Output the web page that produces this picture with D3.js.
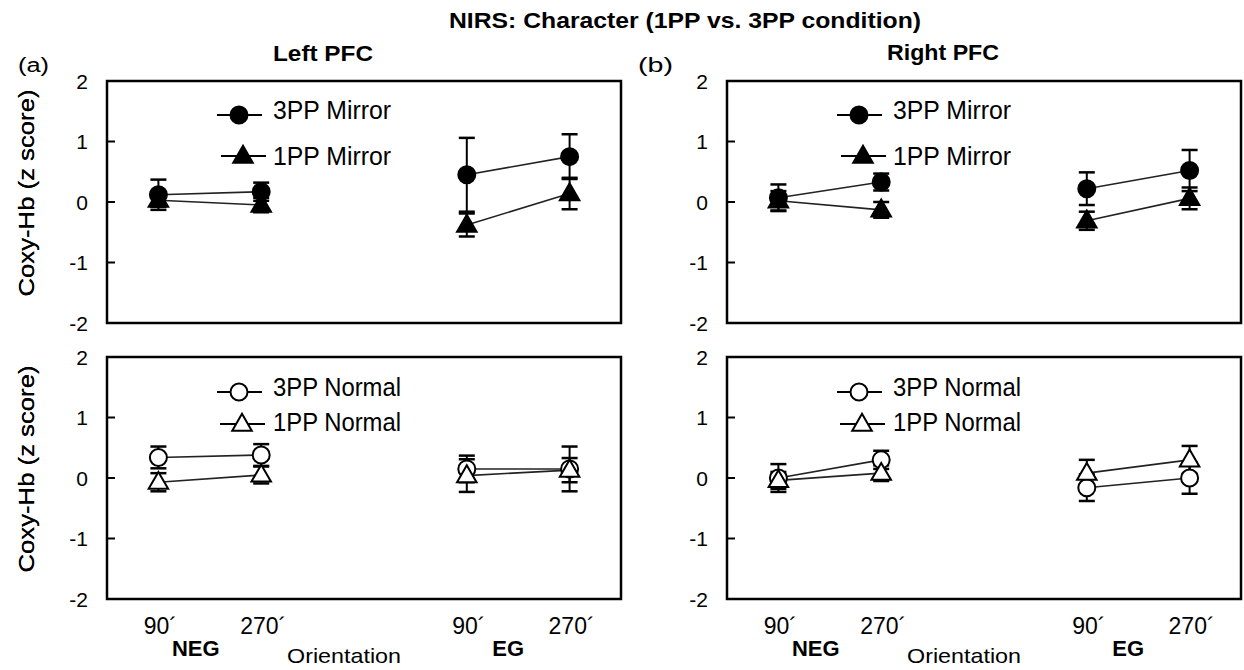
<!DOCTYPE html>
<html>
<head>
<meta charset="utf-8">
<script src="https://cdn.jsdelivr.net/npm/d3@7"></script>
<style>
  html, body { margin: 0; padding: 0; background: #fff; }
  svg { display: block; }
  text { font-family: "Liberation Sans", Arial, sans-serif; fill: #000; }
</style>
</head>
<body>
<svg id="chart" width="1244" height="670"></svg>
<script>
// ---------------- data ----------------
const xSlots = ["NEG-90", "NEG-270", "gap", "EG-90", "EG-270"];
const pointSlots = ["NEG-90", "NEG-270", "EG-90", "EG-270"];
const orientationLabels = ["90´", "270´", "90´", "270´"];
const groupLabels = ["NEG", "EG"];
const yTicks = [2, 1, 0, -1, -2];
const yInnerTicks = [1, 0, -1];

const regions = ["Left PFC", "Right PFC"];
const panelTags = ["(a)", "(b)"];

// Left PFC
const leftMirror3PP = [0.12, 0.17, 0.45, 0.75];
const leftMirror3PPErr = [0.25, 0.15, 0.61, 0.37];
const leftMirror1PP = [0.03, -0.05, -0.38, 0.14];
const leftMirror1PPErr = [0.11, 0.12, 0.19, 0.26];
const leftNormal3PP = [0.34, 0.38, 0.15, 0.15];
const leftNormal3PPErr = [0.18, 0.18, 0.22, 0.37];
const leftNormal1PP = [-0.07, 0.05, 0.04, 0.13];
const leftNormal1PPErr = [0.15, 0.14, 0.27, 0.20];

// Right PFC
const rightMirror3PP = [0.07, 0.33, 0.22, 0.52];
const rightMirror3PPErr = [0.22, 0.14, 0.27, 0.34];
const rightMirror1PP = [0.02, -0.13, -0.31, 0.06];
const rightMirror1PPErr = [0.16, 0.13, 0.15, 0.18];
const rightNormal3PP = [0.00, 0.30, -0.16, 0.00];
const rightNormal3PPErr = [0.23, 0.15, 0.22, 0.26];
const rightNormal1PP = [-0.04, 0.08, 0.08, 0.30];
const rightNormal1PPErr = [0.14, 0.13, 0.22, 0.23];

const seriesNames = ["3PP  Mirror", "1PP  Mirror", "3PP  Normal", "1PP  Normal"];

// ---------------- layout ----------------
const svg = d3.select("#chart");
const colLeft = [107, 727];
const rowTop = [81, 357];
const pw = 514, ph = 242;

function txt(g, s, x, y, o) {
  o = o || {};
  const t = g.append("text").attr("x", x).attr("y", y).text(s)
    .style("font-size", (o.size || 20) + "px")
    .style("font-weight", o.bold ? "bold" : "normal")
    .attr("text-anchor", o.anchor || "start");
  if (o.len) t.attr("textLength", o.len).attr("lengthAdjust", "spacingAndGlyphs");
  return t;
}

// Title
txt(svg, "NIRS:  Character (1PP vs. 3PP condition)", 685, 28, {size: 22, bold: true, anchor: "middle", len: 472});

const triSym = d3.symbol().type(d3.symbolTriangle).size(165);

function drawMarker(g, kind, x, y) {
  if (kind.shape === "circle") {
    g.append("circle").attr("cx", x).attr("cy", y).attr("r", 8.5)
      .attr("fill", kind.filled ? "#000" : "#fff").attr("stroke", "#000").attr("stroke-width", 2);
  } else {
    g.append("path").attr("d", triSym).attr("transform", `translate(${x},${y + 1})`)
      .attr("fill", kind.filled ? "#000" : "#fff").attr("stroke", "#000").attr("stroke-width", 2);
  }
}

const panelData = [
  [ // left
    [{v: leftMirror3PP, e: leftMirror3PPErr, name: seriesNames[0], shape: "circle", filled: true},
     {v: leftMirror1PP, e: leftMirror1PPErr, name: seriesNames[1], shape: "tri", filled: true}],
    [{v: leftNormal3PP, e: leftNormal3PPErr, name: seriesNames[2], shape: "circle", filled: false},
     {v: leftNormal1PP, e: leftNormal1PPErr, name: seriesNames[3], shape: "tri", filled: false}]
  ],
  [ // right
    [{v: rightMirror3PP, e: rightMirror3PPErr, name: seriesNames[0], shape: "circle", filled: true},
     {v: rightMirror1PP, e: rightMirror1PPErr, name: seriesNames[1], shape: "tri", filled: true}],
    [{v: rightNormal3PP, e: rightNormal3PPErr, name: seriesNames[2], shape: "circle", filled: false},
     {v: rightNormal1PP, e: rightNormal1PPErr, name: seriesNames[3], shape: "tri", filled: false}]
  ]
];

const legendRows = [
  [{line: 34, text: 29, dx: 0, len: 118}, {line: 75, text: 75, dx: 4, len: 118}],
  [{line: 35, text: 30, dx: 0, len: 128}, {line: 67, text: 65, dx: 3, len: 128}]
];

colLeft.forEach((cx, ci) => {
  // region headings
  txt(svg, regions[ci], cx + 216, ci === 0 ? 61 : 60, {size: 22, bold: true, anchor: "middle", len: ci === 0 ? 100 : 112});
  txt(svg, panelTags[ci], ci === 0 ? 18 : 638, 72, {size: 20, len: ci === 0 ? 31 : 35});

  rowTop.forEach((ry, ri) => {
    const g = svg.append("g").attr("transform", `translate(${cx},${ry})`);
    const x = d3.scalePoint().domain(xSlots).range([0, pw]).padding(0.5);
    const y = d3.scaleLinear().domain([-2, 2]).range([ph, 0]);

    // frame
    g.append("rect").attr("x", 0).attr("y", 0).attr("width", pw).attr("height", ph)
      .attr("fill", "none").attr("stroke", "#000").attr("stroke-width", 2.5);

    // y ticks (inward) and labels
    yInnerTicks.forEach(t => {
      g.append("line").attr("x1", 0).attr("x2", 8).attr("y1", y(t)).attr("y2", y(t))
        .attr("stroke", "#000").attr("stroke-width", 2);
    });
    yTicks.forEach(t => {
      txt(g, t < 0 ? "-" + Math.abs(t) : String(t), -19, y(t) + 7.5, {size: 21, anchor: "end"});
    });

    // y label
    const yl = g.append("g").attr("transform", `translate(${26 - cx},${ph / 2 - 9}) rotate(-90)`);
    txt(yl, "Coxy-Hb  (z score)", 0, 8, {size: 22, anchor: "middle", len: 207});

    const series = panelData[ci][ri];
    // error bars
    series.forEach(s => {
      pointSlots.forEach((k, i) => {
        const px = x(k);
        const y1 = y(s.v[i] + s.e[i]), y2 = y(s.v[i] - s.e[i]);
        g.append("line").attr("x1", px).attr("x2", px).attr("y1", y1).attr("y2", y2)
          .attr("stroke", "#000").attr("stroke-width", 2);
        [y1, y2].forEach(yy => g.append("line").attr("x1", px - 8).attr("x2", px + 8)
          .attr("y1", yy).attr("y2", yy).attr("stroke", "#000").attr("stroke-width", 2.5));
      });
    });
    // connecting lines (within each group)
    series.forEach(s => {
      [[0, 1], [2, 3]].forEach(([a, b]) => {
        g.append("line").attr("x1", x(pointSlots[a])).attr("y1", y(s.v[a]))
          .attr("x2", x(pointSlots[b])).attr("y2", y(s.v[b]))
          .attr("stroke", "#222").attr("stroke-width", 1.6);
      });
    });
    // markers
    series.forEach(s => {
      pointSlots.forEach((k, i) => drawMarker(g, s, x(k), y(s.v[i])));
    });

    // legend
    series.forEach((s, si) => {
      const L = legendRows[ri][si];
      const mx = 132 + L.dx;
      g.append("line").attr("x1", mx - 22).attr("x2", mx + 23).attr("y1", L.line).attr("y2", L.line)
        .attr("stroke", "#000").attr("stroke-width", 2);
      drawMarker(g, s, mx, L.line);
      txt(g, s.name, 166, L.text + 9, {size: 25, len: L.len});
    });

    // x axis labels on bottom row
    if (ri === 1) {
      pointSlots.forEach((k, i) => {
        txt(g, orientationLabels[i], x(k) + 2, ph + 35, {size: 23, anchor: "middle"});
      });
      const mids = [(x(pointSlots[0]) + x(pointSlots[1])) / 2 - 14, (x(pointSlots[2]) + x(pointSlots[3])) / 2 - 10];
      groupLabels.forEach((gl, i) => txt(g, gl, mids[i], ph + 57, {size: 22, bold: true, anchor: "middle"}));
      txt(g, "Orientation", x("gap") - 20, ph + 64, {size: 21, anchor: "middle", len: 114});
    }
  });
});
</script>
</body>
</html>
